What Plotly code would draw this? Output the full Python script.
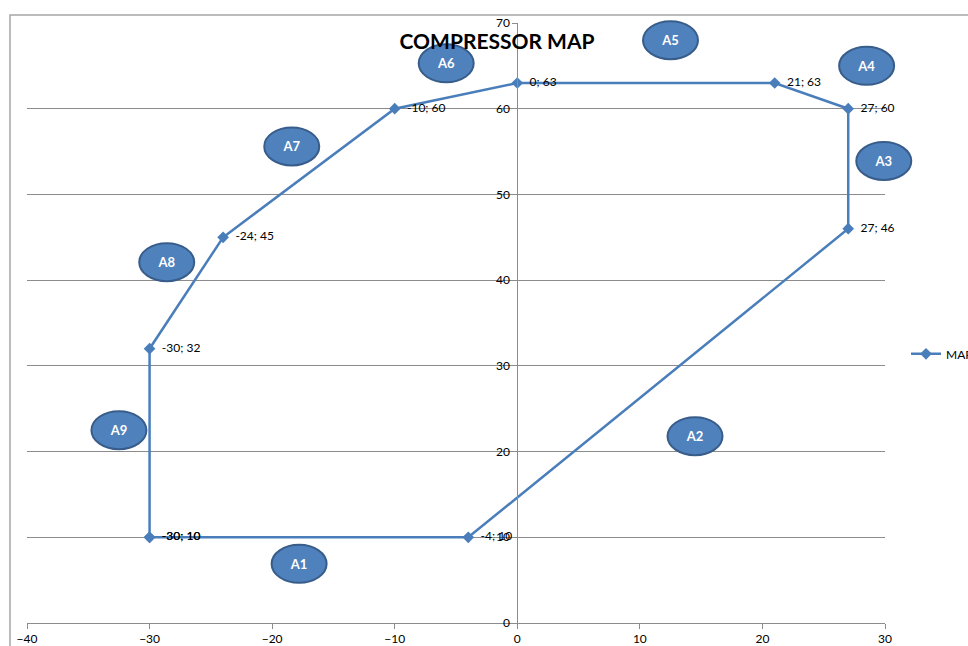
import plotly.graph_objects as go

# Data
map_x = [-30, -4, 27, 27, 21, 0, -10, -24, -30, -30]
map_y = [10, 10, 46, 60, 63, 63, 60, 45, 32, 10]
point_labels = [f"{x}; {y}" for x, y in zip(map_x, map_y)]

area_names = ["A1", "A2", "A3", "A4", "A5", "A6", "A7", "A8", "A9"]
area_x = [-17.8, 14.5, 29.9, 28.5, 12.5, -5.8, -18.4, -28.6, -32.5]
area_y = [6.9, 21.8, 53.9, 65.0, 68.0, 65.3, 55.6, 42.1, 22.5]

X_RANGE = [-40, 30]
Y_RANGE = [0, 70]
FONT = "Lato"
LINE_COLOR = "#4A7EBB"
GRID = "#8C8C8C"

fig = go.Figure()
fig.add_trace(go.Scatter(
    x=map_x, y=map_y, mode="lines+markers", name="MAP",
    line=dict(color=LINE_COLOR, width=2.5),
    marker=dict(symbol="diamond", size=9, color=LINE_COLOR),
    cliponaxis=False,
))
fig.add_trace(go.Scatter(
    x=map_x, y=map_y, mode="text", text=["\u00a0\u00a0\u00a0\u00a0" + t for t in point_labels],
    textposition="middle right", showlegend=False, hoverinfo="skip",
    textfont=dict(family=FONT, size=12, color="black"),
    cliponaxis=False,
))

def to_paper_x(v):
    return (v - X_RANGE[0]) / (X_RANGE[1] - X_RANGE[0])

def to_paper_y(v):
    return (v - Y_RANGE[0]) / (Y_RANGE[1] - Y_RANGE[0])

W_PLOT = 858
H_PLOT = 600
ew, eh = 55 / W_PLOT, 38 / H_PLOT
shapes = []
# chart border
shapes.append(dict(type="rect", xref="paper", yref="paper",
                   x0=-17 / W_PLOT, x1=3, y0=-3, y1=1 + 8 / H_PLOT,
                   line=dict(color="#A6A6A6", width=1.5), layer="below"))
for n, ax, ay in zip(area_names, area_x, area_y):
    cx, cy = to_paper_x(ax), to_paper_y(ay)
    shapes.append(dict(
        type="circle", xref="paper", yref="paper",
        x0=cx - ew / 2, x1=cx + ew / 2, y0=cy - eh / 2, y1=cy + eh / 2,
        fillcolor="#4F81BD", line=dict(color="#385D8A", width=2),
        label=dict(text="<b>%s</b>" % n, font=dict(family=FONT, size=13, color="white")),
        layer="above",
    ))

fig.update_layout(
    width=968, height=646,
    margin=dict(l=27, r=83, t=23, b=23, autoexpand=False),
    paper_bgcolor="white", plot_bgcolor="white",
    font=dict(family=FONT, size=12, color="black"),
    title=dict(text="<b>COMPRESSOR MAP</b>", x=497 / 968, xref="container",
               xanchor="center", y=1 - 42 / 646, yanchor="middle", yref="container",
               font=dict(family=FONT, size=21, color="black")),
    shapes=shapes,
    legend=dict(x=(906 - 27) / W_PLOT, y=to_paper_y(31.4), xanchor="left", yanchor="middle",
                font=dict(family=FONT, size=12), bgcolor="rgba(0,0,0,0)"),
    showlegend=True,
)
fig.update_xaxes(range=X_RANGE, dtick=10, showgrid=False, zeroline=False,
                 showline=True, linecolor=GRID, linewidth=1,
                 ticks="outside", ticklen=5, tickcolor=GRID,
                 tickfont=dict(family=FONT, size=12), automargin=False)
fig.update_yaxes(range=Y_RANGE, dtick=10, showgrid=True, gridcolor=GRID, gridwidth=1,
                 zeroline=False, anchor="free", position=to_paper_x(0),
                 showline=True, linecolor=GRID, linewidth=1,
                 ticks="outside", ticklen=5, tickcolor=GRID,
                 tickfont=dict(family=FONT, size=12), automargin=False)

fig.write_html("out.html")
